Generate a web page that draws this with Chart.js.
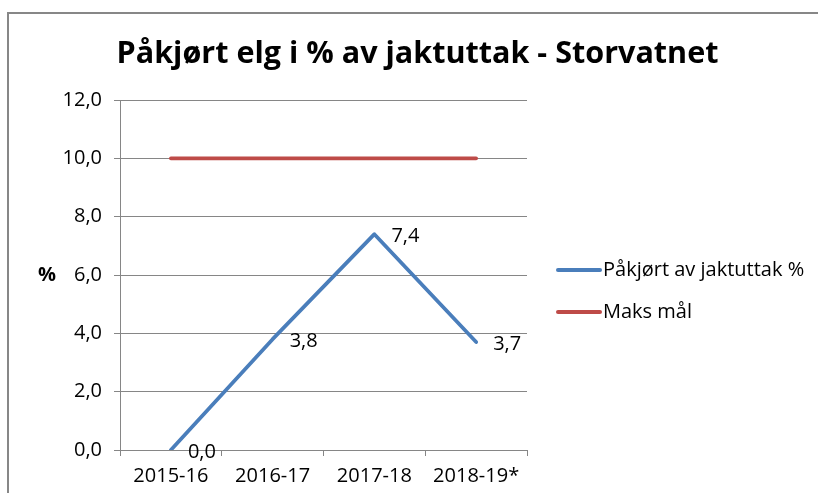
<!DOCTYPE html>
<html>
<head>
<meta charset="utf-8">
<title>Påkjørt elg i % av jaktuttak - Storvatnet</title>
<script src="https://cdn.jsdelivr.net/npm/chart.js@4.4.1/dist/chart.umd.min.js"></script>
<style>
  html, body { margin: 0; padding: 0; background: #fff; overflow: hidden; }
  #frame {
    position: absolute; left: 7px; top: 12px; width: 900px; height: 600px;
    border-left: 2px solid #878787; border-top: 2px solid #878787;
  }
  #wrap { position: absolute; left: 0; top: 0; width: 818px; height: 493px; }
</style>
</head>
<body>
<div id="frame"></div>
<div id="wrap"><canvas id="elgChart" width="818" height="493"></canvas></div>
<script>
'use strict';

// data -----------------------------------------------------------------------
let seasons = ['2015-16', '2016-17', '2017-18', '2018-19*'];
let pakjortPct = [0.0, 3.8, 7.4, 3.7];
let maksMal = [10.0, 10.0, 10.0, 10.0];
let seriesNames = ['Påkjørt av jaktuttak %', 'Maks mål'];
let chartTitle = 'Påkjørt elg i % av jaktuttak - Storvatnet';
let yTitle = '%';
let yMin = 0;
let yMax = 12;
let yStep = 2;

let blue = '#4A7EBB';
let red = '#BE4B48';
let gridGrey = '#868686';
let fontFamily = '"Open Sans", "DejaVu Sans", sans-serif';

function comma(v) {
  return v.toFixed(1).replace('.', ',');
}

// extra drawing: title, y title, value labels, legend
let extras = {
  id: 'extras',
  afterDatasetsDraw(chart) {
    let ctx = chart.ctx;
    ctx.save();
    ctx.fillStyle = '#000';

    // title, stretched to the width of the original
    ctx.font = 'bold 31px ' + fontFamily;
    let w = ctx.measureText(chartTitle).width;
    let sx = 602 / w;
    ctx.save();
    ctx.translate(417.5, 63);
    ctx.scale(sx, 1);
    ctx.textAlign = 'center';
    ctx.textBaseline = 'alphabetic';
    ctx.fillText(chartTitle, 0, 0);
    ctx.restore();

    // y axis title
    ctx.font = 'bold 20px ' + fontFamily;
    ctx.textAlign = 'center';
    ctx.textBaseline = 'middle';
    ctx.fillText(yTitle, 47, chart.chartArea.top + (chart.chartArea.bottom - chart.chartArea.top) / 2);

    // value labels for the blue series
    ctx.font = '20px ' + fontFamily;
    ctx.textAlign = 'left';
    let meta = chart.getDatasetMeta(0);
    meta.data.forEach(function(pt, i) {
      ctx.fillText(comma(pakjortPct[i]), pt.x + 17, pt.y + 2);
    });

    // legend
    let legendY = [270, 312];
    chart.data.datasets.forEach(function(ds, i) {
      ctx.strokeStyle = ds.borderColor;
      ctx.lineWidth = 4;
      ctx.lineCap = 'round';
      ctx.beginPath();
      ctx.moveTo(558, legendY[i]);
      ctx.lineTo(600, legendY[i]);
      ctx.stroke();
      ctx.fillText(ds.label, 603, legendY[i]);
    });
    ctx.restore();
  }
};

let chartObject = {
  type: 'line',
  data: {
    labels: seasons,
    datasets: [{
      label: seriesNames[0],
      data: pakjortPct,
      borderColor: blue,
      backgroundColor: blue,
      borderWidth: 3.75,
      pointRadius: 0,
      borderCapStyle: 'round',
      borderJoinStyle: 'round',
      tension: 0
    },
    {
      label: seriesNames[1],
      data: maksMal,
      borderColor: red,
      backgroundColor: red,
      borderWidth: 3.75,
      pointRadius: 0,
      borderCapStyle: 'round',
      tension: 0
    }]
  },
  options: {
    responsive: false,
    animation: false,
    layout: {
      padding: { left: 10, top: 100, right: 291, bottom: 0 }
    },
    plugins: {
      legend: { display: false },
      title: { display: false },
      tooltip: { enabled: false }
    },
    scales: {
      x: {
        offset: true,
        grid: {
          offset: true,
          drawOnChartArea: false,
          drawTicks: true,
          tickLength: 6,
          color: gridGrey
        },
        border: { display: true, color: gridGrey },
        ticks: {
          color: '#000',
          padding: 8,
          maxRotation: 0,
          font: { family: fontFamily, size: 20 }
        },
        afterFit(scale) {
          scale.height = 43;
        }
      },
      y: {
        min: yMin,
        max: yMax,
        ticks: {
          stepSize: yStep,
          color: '#000',
          padding: 12,
          font: { family: fontFamily, size: 20 },
          callback: function(v) { return comma(v); }
        },
        grid: {
          color: gridGrey,
          tickLength: 6,
          drawTicks: true
        },
        border: { display: true, color: gridGrey },
        afterFit(scale) {
          scale.width = 110;
        }
      }
    }
  },
  plugins: [extras]
};

let ctx = document.getElementById('elgChart').getContext('2d');
let myChart = new Chart(ctx, chartObject);
</script>
</body>
</html>
